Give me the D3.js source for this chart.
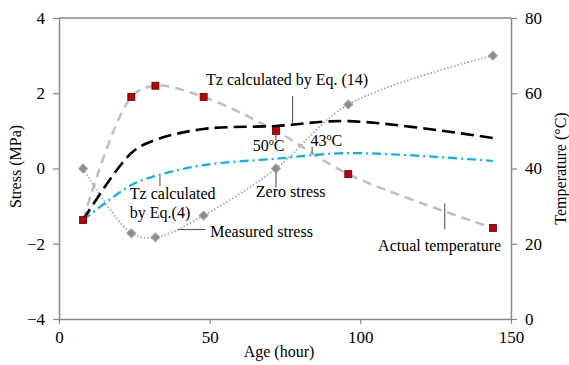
<!DOCTYPE html>
<html>
<head>
<meta charset="utf-8">
<script src="https://cdn.jsdelivr.net/npm/d3@7"></script>
<style>
  body { margin: 0; background: #fff; }
  svg text { font-family: "Liberation Serif", "Times New Roman", serif; fill: #000; }
</style>
</head>
<body>
<div id="chart"></div>
<script>
// Age of concrete (hour) at each measurement
const ages = [8, 24, 32, 48, 72, 96, 144];
// Actual temperature (°C), red squares
const actualTemp = [26.3, 59.0, 62.0, 59.0, 50.0, 38.5, 24.2];
// Measured stress (MPa), grey diamonds
const measuredStress = [0, -1.72, -1.83, -1.25, 0, 1.7, 3.0];
// Tz calculated by Eq.(14) (°C)
const tzEq14 = [26.3, 44.1, 47.6, 50.5, 51.3, 52.6, 48.1];
// Tz calculated by Eq.(4) (°C)
const tzEq4 = [26.3, 35.6, 38.0, 40.9, 42.6, 44.1, 42.0];

const xTicks = [0, 50, 100, 150];
const stressTicks = [-4, -2, 0, 2, 4];
const tempTicks = [0, 20, 40, 60, 80];

const W = 569, H = 365;
const margin = { top: 18, right: 58, bottom: 46, left: 59 };
const iw = W - margin.left - margin.right;
const ih = H - margin.top - margin.bottom;
const serif = '"Liberation Serif", "Times New Roman", serif';
const axisColor = '#868686';
const leaderColor = '#595959';

const svg = d3.select('#chart').append('svg')
  .attr('width', W)
  .attr('height', H);

const g = svg.append('g')
  .attr('transform', `translate(${margin.left},${margin.top})`);

const x = d3.scaleLinear().domain([0, 150]).range([0, iw]);
const yS = d3.scaleLinear().domain([-4, 4]).range([ih, 0]);
const yT = d3.scaleLinear().domain([0, 80]).range([ih, 0]);

// axes
function styleAxis(sel) {
  sel.attr('font-family', serif).attr('font-size', 17);
  sel.select('.domain').attr('stroke', axisColor).attr('stroke-width', 1.5);
  sel.selectAll('.tick line').attr('stroke', axisColor).attr('stroke-width', 1.2);
  sel.selectAll('.tick text').attr('fill', '#000');
}

g.append('g')
  .attr('transform', `translate(0,${ih})`)
  .call(d3.axisBottom(x).tickValues(xTicks).tickSize(5).tickSizeOuter(0).tickPadding(7))
  .call(styleAxis);

g.append('g')
  .call(d3.axisLeft(yS).tickValues(stressTicks).tickSize(6).tickSizeOuter(0).tickPadding(8))
  .call(styleAxis);

g.append('g')
  .attr('transform', `translate(${iw},0)`)
  .call(d3.axisRight(yT).tickValues(tempTicks).tickSize(6).tickSizeOuter(0).tickPadding(8))
  .call(styleAxis);

// top border
g.append('line')
  .attr('x1', 0).attr('x2', iw).attr('y1', 0).attr('y2', 0)
  .attr('stroke', axisColor).attr('stroke-width', 1.5);

// axis titles
svg.append('text')
  .attr('transform', `translate(21,${margin.top + ih / 2 - 2}) rotate(-90)`)
  .attr('text-anchor', 'middle')
  .style('font-size', '16px')
  .text('Stress (MPa)');

svg.append('text')
  .attr('transform', `translate(566,${margin.top + ih / 2}) rotate(-90)`)
  .attr('text-anchor', 'middle')
  .style('font-size', '16px')
  .text('Temperature (°C)');

svg.append('text')
  .attr('x', margin.left + iw / 2 - 6)
  .attr('y', 357)
  .attr('text-anchor', 'middle')
  .style('font-size', '16px')
  .text('Age (hour)');

// lines
const curve = d3.curveCatmullRom.alpha(0.5);
const lineT = d3.line().x((d, i) => x(ages[i])).y(d => yT(d)).curve(curve);
const lineS = d3.line().x((d, i) => x(ages[i])).y(d => yS(d)).curve(curve);

g.append('path').datum(actualTemp)
  .attr('d', lineT).attr('fill', 'none')
  .attr('stroke', '#bfbfbf').attr('stroke-width', 2.5)
  .attr('stroke-dasharray', '9,6');

g.append('path').datum(measuredStress)
  .attr('d', lineS).attr('fill', 'none')
  .attr('stroke', '#a6a6a6').attr('stroke-width', 1.8)
  .attr('stroke-dasharray', '1.5,2');

g.append('path').datum(tzEq14)
  .attr('d', lineT).attr('fill', 'none')
  .attr('stroke', '#000').attr('stroke-width', 2.6)
  .attr('stroke-dasharray', '13,6');

g.append('path').datum(tzEq4)
  .attr('d', lineT).attr('fill', 'none')
  .attr('stroke', '#00b0f0').attr('stroke-width', 2.2)
  .attr('stroke-dasharray', '9,4,2,4');

// markers
g.selectAll('.diamond')
  .data(measuredStress)
  .enter().append('path')
  .attr('class', 'diamond')
  .attr('d', d3.symbol(d3.symbolSquare, 40))
  .attr('transform', (d, i) => `translate(${x(ages[i])},${yS(d)}) rotate(45)`)
  .attr('fill', '#8c8c8c')
  .attr('stroke', '#a6a6a6')
  .attr('stroke-width', 1);

g.selectAll('.square')
  .data(actualTemp)
  .enter().append('rect')
  .attr('class', 'square')
  .attr('x', (d, i) => x(ages[i]) - 3.5)
  .attr('y', d => yT(d) - 3.5)
  .attr('width', 7).attr('height', 7)
  .attr('fill', '#c00000')
  .attr('stroke', '#5a0000')
  .attr('stroke-width', 0.8);

// annotations
function leader(x1, y1, x2, y2) {
  g.append('line')
    .attr('x1', x1).attr('y1', y1).attr('x2', x2).attr('y2', y2)
    .attr('stroke', leaderColor).attr('stroke-width', 1.1);
}
function label(tx, ty, txt) {
  return g.append('text')
    .attr('x', tx).attr('y', ty)
    .style('font-size', '16px')
    .text(txt);
}
function degLabel(tx, ty, num) {
  const t = label(tx, ty, num);
  t.append('tspan').attr('dy', -6).style('font-size', '10px').text('o');
  t.append('tspan').attr('dy', 6).text('C');
}

// Tz calculated by Eq. (14)
label(x(48.8), yT(50.5) - 44, 'Tz calculated by Eq. (14)');
leader(x(77.5), yT(50.5) - 33, x(77.5), yT(51.6) - 2);

// 50°C
degLabel(x(64.3), yT(50) + 20, '50');
leader(x(72), yT(50) + 4, x(72), yT(50) + 9);

// 43°C
degLabel(x(83.5), yT(43.9) - 8, '43');
leader(x(84), yT(43.9) - 7, x(84), yT(43.9));

// Zero stress
label(x(65.3), yS(0) + 28, 'Zero stress');
leader(x(72), yS(0) + 4, x(72), yS(0) + 19);

// Tz calculated by Eq.(4)
label(x(23.5), yT(36) + 15, 'Tz calculated');
label(x(23.5), yT(36) + 34, 'by Eq.(4)');
leader(x(33.5), yT(38.2) + 1, x(33.5), yT(38.2) + 11);

// Measured stress
label(x(50.2), yS(-1.25) + 21, 'Measured stress');
leader(x(39.5), yS(-1.25) + 14, x(48.6), yS(-1.25) + 14);

// Actual temperature
label(x(105.9), yT(24.2) + 23, 'Actual temperature');
leader(x(128), yT(31) + 1, x(128), yT(31) + 27);
</script>
</body>
</html>
